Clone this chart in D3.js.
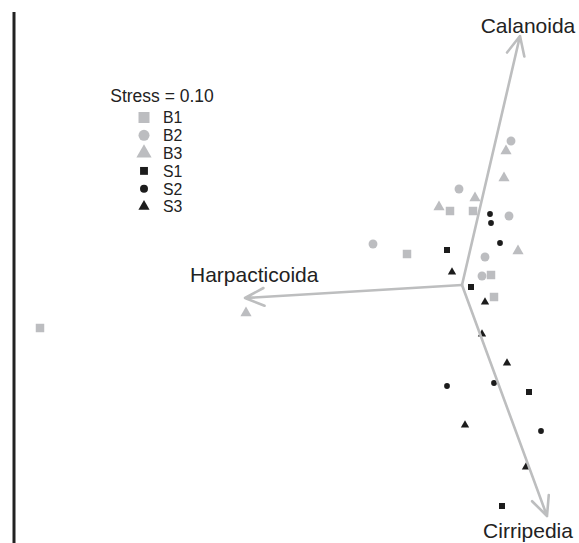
<!DOCTYPE html>
<html>
<head>
<meta charset="utf-8">
<script src="https://cdn.jsdelivr.net/npm/d3@7"></script>
<style>
  body { margin: 0; background: #fff; }
  svg { display: block; font-family: "Liberation Sans", Arial, sans-serif; }
</style>
</head>
<body>
<svg id="chart" width="579" height="543"></svg>
<script>
// NMDS ordination scores
const groups = ['B1', 'B2', 'B3', 'S1', 'S2', 'S3'];
const b1 = [[-0.12, 0.74], [0.11, 0.74], [-0.55, 0.31], [0.29, 0.10], [0.32, -0.12], [-4.22, -0.43]];
const b2 = [[0.49, 1.44], [-0.03, 0.96], [0.47, 0.69], [-0.89, 0.41], [0.23, 0.28], [0.20, 0.09]];
const b3 = [[0.44, 1.34], [0.42, 1.07], [0.13, 0.87], [-0.23, 0.78], [0.56, 0.34], [-2.16, -0.28]];
const s1 = [[-0.15, 0.35], [0.09, -0.02], [0.67, -1.07], [0.40, -2.21]];
const s2 = [[0.28, 0.71], [0.29, 0.62], [0.38, 0.42], [-0.15, -1.01], [0.32, -0.98], [0.79, -1.46]];
const s3 = [[-0.10, 0.13], [0.23, -0.17], [0.20, -0.49], [0.45, -0.78], [0.03, -1.40], [0.64, -1.82]];
const taxa = ['Calanoida', 'Harpacticoida', 'Cirripedia'];
const vectors = [[0.58, 2.49], [-2.17, -0.13], [0.85, -2.31]];
const stress = 0.10;

const W = 579, H = 543;
const svg = d3.select('#chart');
const x = d3.scaleLinear().domain([-4.62, 1.17]).range([0, W]);
const y = d3.scaleLinear().domain([-2.58, 2.85]).range([H, 0]);
const frameX = -4.48;

const grey = '#bcbdc0', black = '#1c1c1c', arrowCol = '#bdbebf', ink = '#222';
const shape = d3.scaleOrdinal().domain(groups)
  .range([d3.symbolSquare, d3.symbolCircle, d3.symbolTriangle, d3.symbolSquare, d3.symbolCircle, d3.symbolTriangle]);
const colour = d3.scaleOrdinal().domain(groups).range([grey, grey, grey, black, black, black]);
const plotSize = d3.scaleOrdinal().domain(groups).range([72, 62, 54, 36, 26, 30]);
const keySize = d3.scaleOrdinal().domain(groups).range([121, 95, 100, 62, 50, 54]);

// left frame line
svg.append('line')
  .attr('x1', x(frameX)).attr('x2', x(frameX))
  .attr('y1', 12).attr('y2', H)
  .attr('stroke', ink).attr('stroke-width', 3);

// points
const series = [b1, b2, b3, s1, s2, s3];
const pts = series.flatMap((arr, i) => arr.map(p => ({ g: groups[i], x: p[0], y: p[1] })));
svg.append('g').selectAll('path').data(pts).join('path')
  .attr('transform', d => `translate(${x(d.x)},${y(d.y)})`)
  .attr('d', d => d3.symbol(shape(d.g), plotSize(d.g))())
  .attr('fill', d => colour(d.g));

// species vectors
const ox = x(0), oy = y(0);
const vg = svg.append('g').attr('stroke', arrowCol).attr('stroke-width', 2.6)
  .attr('fill', 'none').attr('stroke-linecap', 'round').attr('stroke-linejoin', 'round');
vectors.forEach(v => {
  const tx = x(v[0]), ty = y(v[1]);
  const ang = Math.atan2(ty - oy, tx - ox);
  const len = 21, spread = 25 * Math.PI / 180;
  const h1 = [tx - len * Math.cos(ang - spread), ty - len * Math.sin(ang - spread)];
  const h2 = [tx - len * Math.cos(ang + spread), ty - len * Math.sin(ang + spread)];
  vg.append('path').attr('d', `M${ox},${oy}L${tx},${ty}M${h1[0]},${h1[1]}L${tx},${ty}L${h2[0]},${h2[1]}`);
});

// vector labels
const labelPos = [
  { dx: 8, dy: -3.5, anchor: 'middle' },
  { dx: -55, dy: -16, anchor: 'start' },
  { dx: -19, dy: 22, anchor: 'middle' }
];
taxa.forEach((t, i) => {
  const p = labelPos[i];
  svg.append('text')
    .attr('x', x(vectors[i][0]) + p.dx)
    .attr('y', y(vectors[i][1]) + p.dy)
    .attr('text-anchor', p.anchor)
    .attr('font-size', 21)
    .attr('fill', ink)
    .text(t);
});

// legend
const key = svg.append('g').attr('transform', 'translate(144,0)');
key.append('text').attr('x', 18).attr('y', 102).attr('text-anchor', 'middle')
  .attr('font-size', 17.5).attr('fill', ink).text(`Stress = ${stress.toFixed(2)}`);
const rowY = d3.scalePoint().domain(groups).range([117.5, 206.5]);
const rows = key.selectAll('g.row').data(groups).join('g')
  .attr('class', 'row').attr('transform', d => `translate(0,${rowY(d)})`);
rows.append('path')
  .attr('d', d => d3.symbol(shape(d), keySize(d))())
  .attr('fill', d => colour(d));
rows.append('text').attr('x', 19).attr('y', 5.8)
  .attr('font-size', 15.8).attr('fill', ink).text(d => d);
</script>
</body>
</html>
